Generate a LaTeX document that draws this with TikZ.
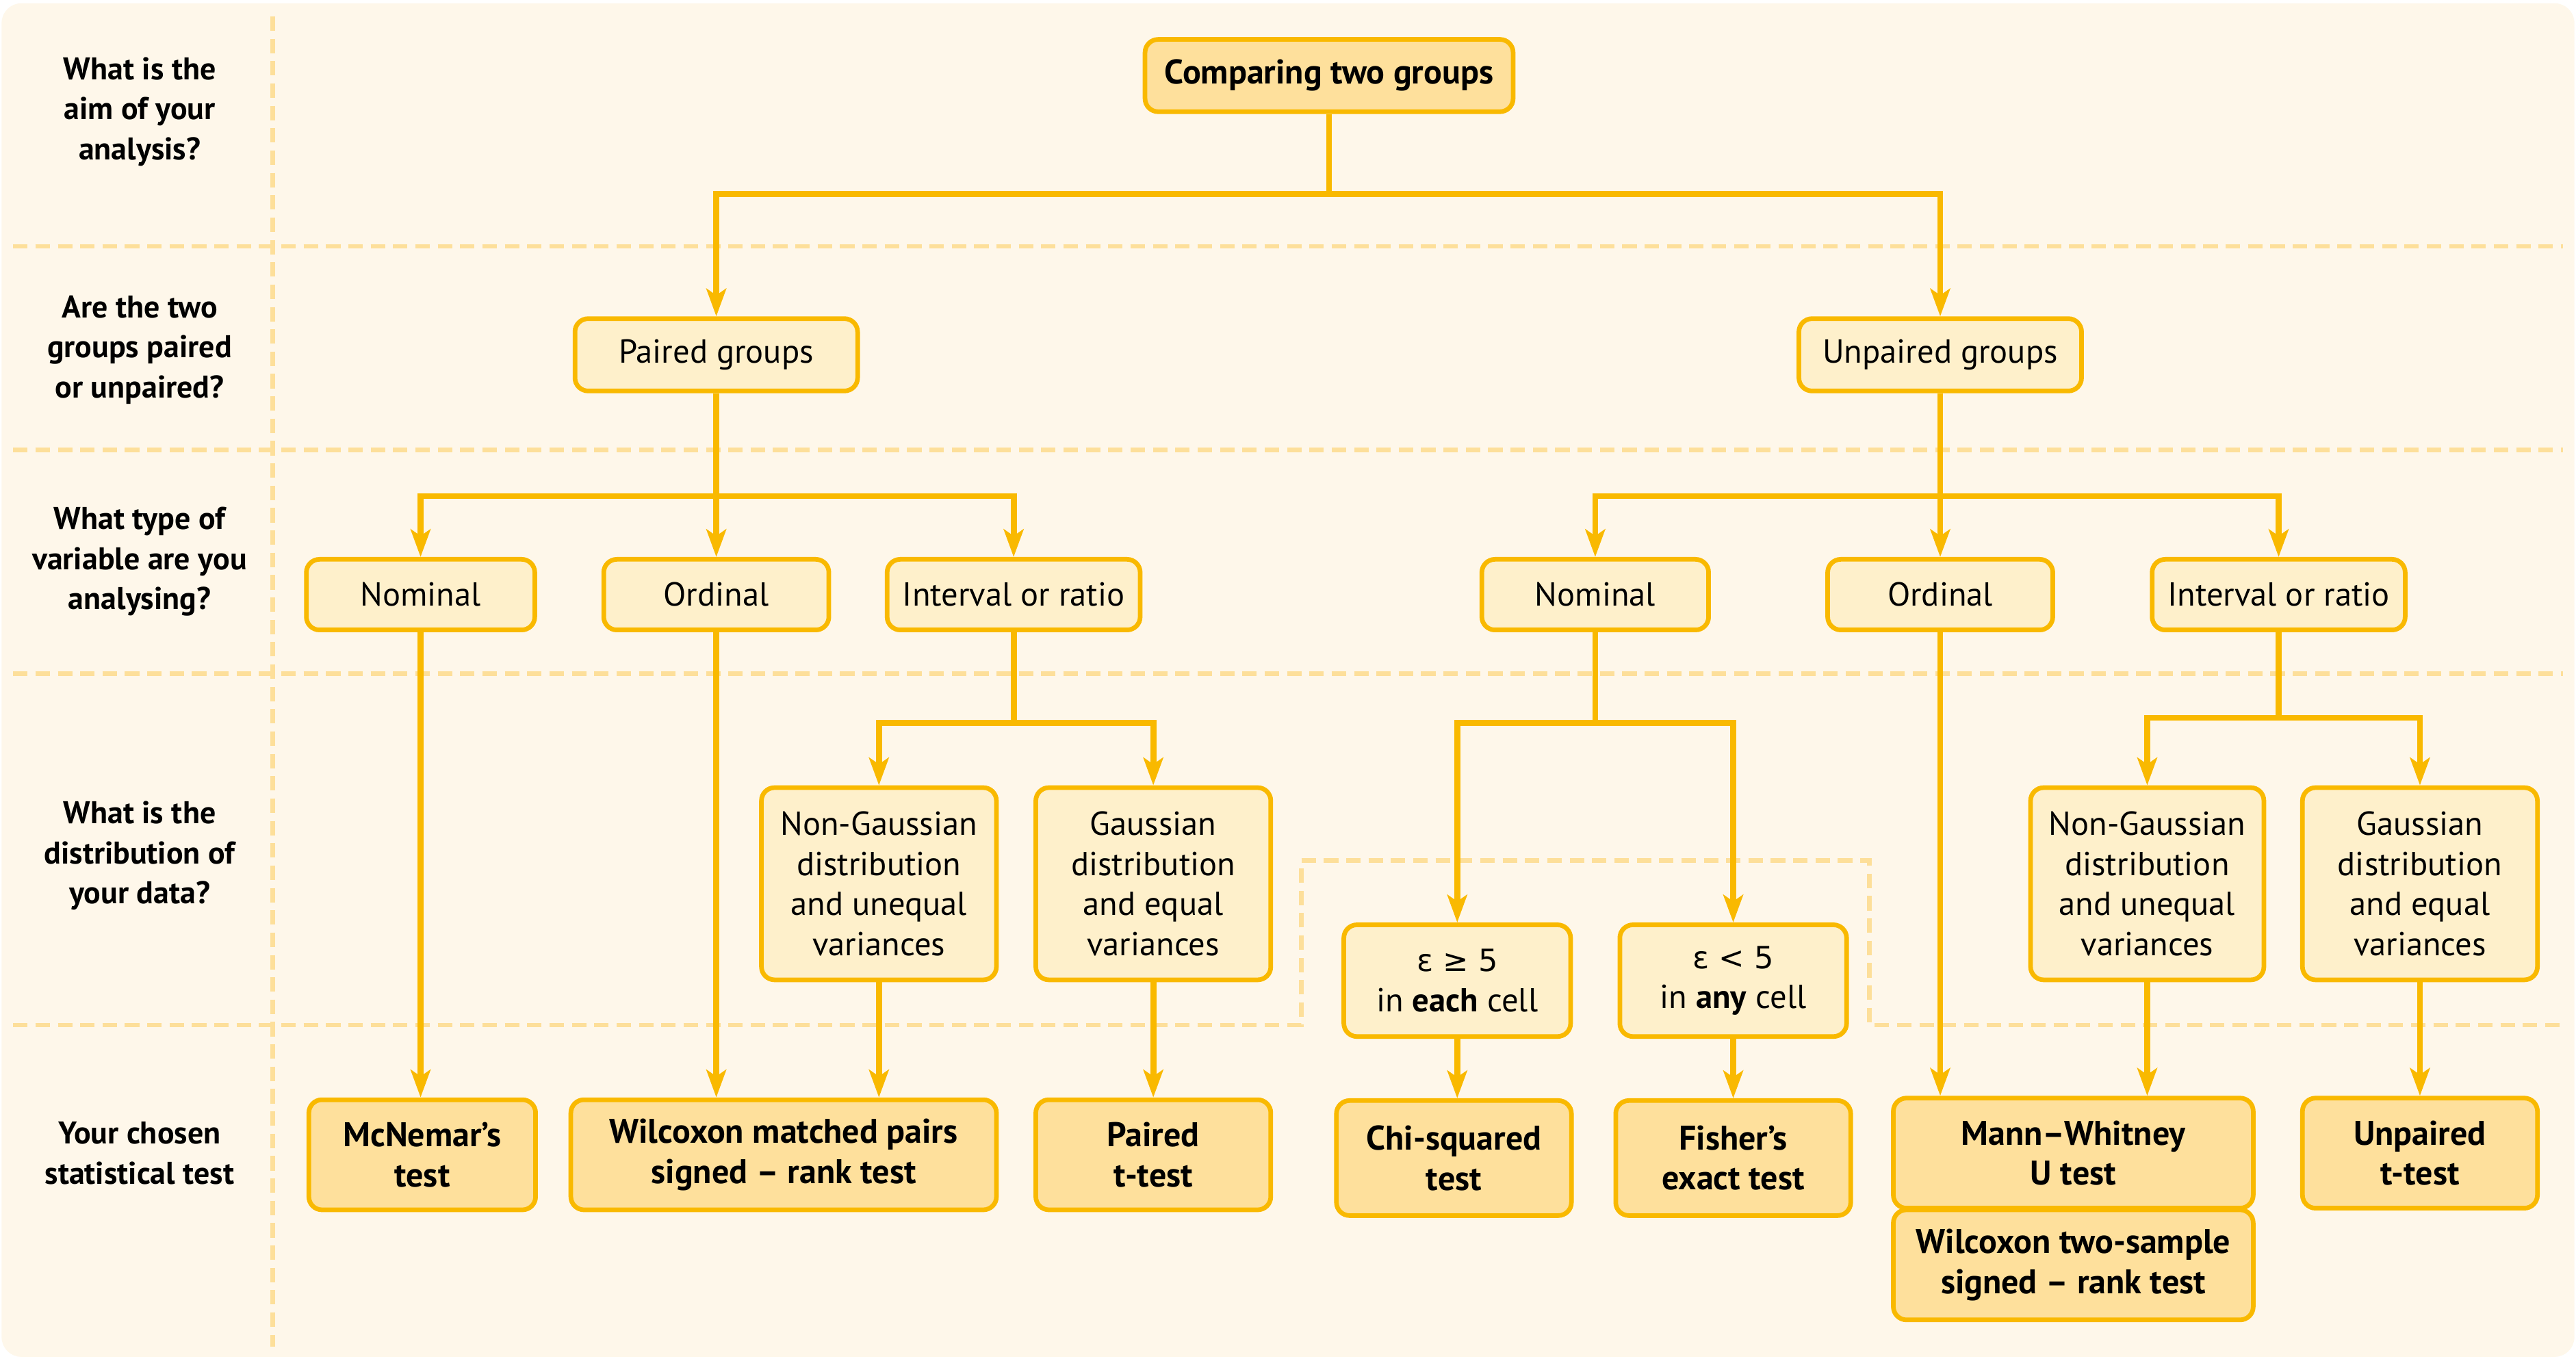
\documentclass[tikz,border=0pt]{standalone}
\usepackage{fontspec}
\setmainfont{PT Sans}
\newfontfamily\grk{DejaVu Sans}[Scale=0.92]
\usetikzlibrary{arrows.meta}
\definecolor{gold}{HTML}{F9B900}
\definecolor{darkfill}{HTML}{FEE09C}
\definecolor{lightfill}{HTML}{FEF0CB}
\definecolor{bgc}{HTML}{FEF7EA}
\definecolor{sep}{HTML}{FDDF9A}
\tikzset{
  every node/.style={font=\fontsize{14.4}{17.3}\selectfont},
  box/.style={draw=gold, line width=2pt, rounded corners=0.2cm, align=center, inner sep=0pt},
  light/.style={box, fill=lightfill},
  dark/.style={box, fill=darkfill, font=\fontsize{14.8}{17.3}\selectfont\bfseries},
  rowlabel/.style={align=center, font=\fontsize{13.6}{17.3}\selectfont\bfseries},
  conn/.style={draw=gold, line width=2.6pt},
  arr/.style={conn, -{Stealth[length=0.42cm, width=0.3cm, inset=0.1cm]}},
  sepline/.style={draw=sep, line width=2pt, dash pattern=on 0.22cm off 0.12cm}
}
\begin{document}
\begin{tikzpicture}[x=0.025cm, y=-0.025cm]
\useasboundingbox (0,0) rectangle (1568,827);
\fill[white] (0,0) rectangle (1568,827);
\fill[bgc, rounded corners=0.3cm] (1,2) rectangle (1567,826);
% separators
\draw[sepline] (166,10) -- (166,820);
\draw[sepline] (8,150) -- (1560,150);
\draw[sepline] (8,274) -- (1560,274);
\draw[sepline] (8,410) -- (1560,410);
\draw[sepline] (8,624) -- (792,624) -- (792,524) -- (1138,524) -- (1138,624) -- (1560,624);
% row labels
\node[rowlabel] (lab1) at (85,68) {What is the\\aim of your\\analysis?};
\node[rowlabel] (lab2) at (85,213) {Are the two\\groups paired\\or unpaired?};
\node[rowlabel] (lab3) at (85,342) {What type of\\variable are you\\analysing?};
\node[rowlabel] (lab4) at (85,521) {What is the\\distribution of\\your data?};
\node[rowlabel] (lab5) at (85,702) {Your chosen\\statistical test};
% nodes
\node[dark, minimum width=5.6cm, minimum height=1.1cm] (top) at (809,46) {Comparing two groups};
\node[light, minimum width=4.3cm, minimum height=1.1cm] (paired) at (436,216) {Paired groups};
\node[light, minimum width=4.3cm, minimum height=1.1cm] (unpaired) at (1181,216) {Unpaired groups};
\node[light, minimum width=3.475cm, minimum height=1.075cm] (nomL) at (256,362) {Nominal};
\node[light, minimum width=3.425cm, minimum height=1.075cm] (ordL) at (436,362) {Ordinal};
\node[light, minimum width=3.85cm, minimum height=1.075cm] (intL) at (617,362) {Interval or ratio};
\node[light, minimum width=3.45cm, minimum height=1.075cm] (nomR) at (971,362) {Nominal};
\node[light, minimum width=3.425cm, minimum height=1.075cm] (ordR) at (1181,362) {Ordinal};
\node[light, minimum width=3.85cm, minimum height=1.075cm] (intR) at (1387,362) {Interval or ratio};
\node[light, minimum width=3.575cm, minimum height=2.925cm] (ngL) at (535,538) {Non-Gaussian\\distribution\\and unequal\\variances};
\node[light, minimum width=3.575cm, minimum height=2.925cm] (gL) at (702,538) {Gaussian\\distribution\\and equal\\variances};
\node[light, minimum width=3.45cm, minimum height=1.7cm] (epsA) at (887,597) {{\grk ε ≥ 5}\\in \textbf{each} cell};
\node[light, minimum width=3.45cm, minimum height=1.7cm] (epsB) at (1055,597) {{\grk ε < 5}\\in \textbf{any} cell};
\node[light, minimum width=3.55cm, minimum height=2.925cm] (ngR) at (1307,538) {Non-Gaussian\\distribution\\and unequal\\variances};
\node[light, minimum width=3.575cm, minimum height=2.925cm] (gR) at (1473,538) {Gaussian\\distribution\\and equal\\variances};
\node[dark, minimum width=3.45cm, minimum height=1.675cm] (mcn) at (257,703) {McNemar's\\test};
\node[dark, minimum width=6.475cm, minimum height=1.675cm] (wmp) at (477,703) {Wilcoxon matched pairs\\signed -- rank test};
\node[dark, minimum width=3.575cm, minimum height=1.675cm] (pt) at (702,703) {Paired\\t-test};
\node[dark, minimum width=3.575cm, minimum height=1.75cm] (chi) at (885,705) {Chi-squared\\test};
\node[dark, minimum width=3.575cm, minimum height=1.75cm] (fis) at (1055,705) {Fisher's\\exact test};
\node[dark, minimum width=5.475cm, minimum height=1.675cm] (mw) at (1262,702) {Mann--Whitney\\U test};
\node[dark, minimum width=5.475cm, minimum height=1.675cm] (wts) at (1262,770) {Wilcoxon two-sample\\signed -- rank test};
\node[dark, minimum width=3.575cm, minimum height=1.675cm] (upt) at (1473,702) {Unpaired\\t-test};
% junctions
\coordinate (j1) at (809,118);
\coordinate (j2) at (436,302);
\coordinate (j3) at (1181,302);
\coordinate (j4) at (617,440);
\coordinate (j5) at (971,440);
\coordinate (j6) at (1387,437);
% connectors
\draw[conn] (top.south) -- (j1);
\draw[arr] (j1) -| (paired.north);
\draw[arr] (j1) -| (unpaired.north);
\draw[arr] (paired.south) -- (ordL.north);
\draw[arr] (j2) -| (nomL.north);
\draw[arr] (j2) -| (intL.north);
\draw[arr] (unpaired.south) -- (ordR.north);
\draw[arr] (j3) -| (nomR.north);
\draw[arr] (j3) -| (intR.north);
\draw[arr] (nomL.south) -- (nomL.south |- mcn.north);
\draw[arr] (ordL.south) -- (ordL.south |- wmp.north);
\draw[conn] (intL.south) -- (j4);
\draw[arr] (j4) -| (ngL.north);
\draw[arr] (j4) -| (gL.north);
\draw[arr] (ngL.south) -- (ngL.south |- wmp.north);
\draw[arr] (gL.south) -- (pt.north);
\draw[conn] (nomR.south) -- (j5);
\draw[arr] (j5) -| (epsA.north);
\draw[arr] (j5) -| (epsB.north);
\draw[arr] (epsA.south) -- (epsA.south |- chi.north);
\draw[arr] (epsB.south) -- (fis.north);
\draw[arr] (ordR.south) -- (ordR.south |- mw.north);
\draw[conn] (intR.south) -- (j6);
\draw[arr] (j6) -| (ngR.north);
\draw[arr] (j6) -| (gR.north);
\draw[arr] (ngR.south) -- (ngR.south |- mw.north);
\draw[arr] (gR.south) -- (upt.north);
\end{tikzpicture}
\end{document}
